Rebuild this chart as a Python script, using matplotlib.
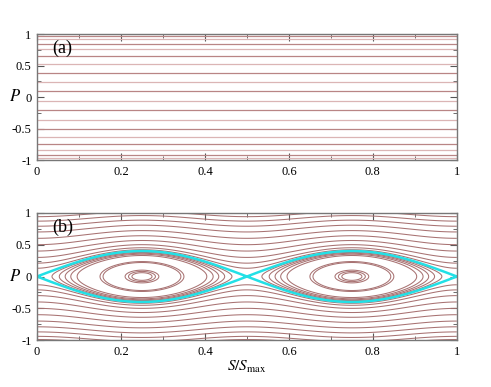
import numpy as np
import matplotlib
matplotlib.use("Agg")
import matplotlib.pyplot as plt
from matplotlib.ticker import MultipleLocator, FormatStrFormatter

plt.rcParams['font.family'] = ['Liberation Serif', 'DejaVu Serif']
plt.rcParams['mathtext.fontset'] = 'stix'
plt.rcParams['axes.unicode_minus'] = False

# panel (a): flat orbits, momentum of each line
levels_a = [0.97, 0.92, 0.85, 0.76, 0.65, 0.53, 0.39, 0.24, 0.09,
            -0.06, -0.21, -0.36, -0.50, -0.63, -0.75, -0.84, -0.92, -0.97]

# panel (b): pendulum-like phase space
K = 0.04                     # separatrix half-width 0.4 = 2*sqrt(K)
sep_amp = 0.40               # separatrix P at S=0.25
trapped_amp = [0.06, 0.08, 0.10, 0.22, 0.235, 0.33, 0.35, 0.365, 0.378, 0.39]
passing_p0 = [0.13, 0.21, 0.30, 0.40, 0.50, 0.60, 0.70, 0.79, 0.87, 0.94, 0.99]

fig = plt.figure(figsize=(4.91, 3.87), dpi=100)
ax_a = fig.add_axes([0.0754, 0.586, 0.855, 0.326])
ax_b = fig.add_axes([0.0754, 0.121, 0.855, 0.329])

for i, p in enumerate(levels_a):
    col = '#b98585' if i % 2 == 0 else '#dbb5b5'
    ax_a.axhline(p, color=col, lw=0.9)

s = np.linspace(0, 1, 800)
p = np.linspace(-1.1, 1.1, 800)
S, P = np.meshgrid(s, p)
H = P ** 2 / 2 + K * np.cos(4 * np.pi * S)

e_trap = sorted(a ** 2 / 2 - K for a in trapped_amp)
e_pass = sorted(p0 ** 2 / 2 + K for p0 in passing_p0)
ax_b.contour(S, P, H, levels=e_trap + e_pass, colors='#a87272',
             linewidths=0.75, linestyles='solid')
ax_b.contour(S, P, H, levels=[sep_amp ** 2 / 2 - K], colors='#22e0e6',
             linewidths=1.8, linestyles='solid')

for ax, tag in [(ax_a, '(a)'), (ax_b, '(b)')]:
    ax.set_xlim(0, 1)
    ax.set_ylim(-1, 1)
    ax.xaxis.set_major_locator(MultipleLocator(0.2))
    ax.xaxis.set_minor_locator(MultipleLocator(0.1))
    ax.yaxis.set_major_locator(MultipleLocator(0.5))
    ax.yaxis.set_minor_locator(MultipleLocator(0.25))
    ax.xaxis.set_major_formatter(FormatStrFormatter('%g'))
    ax.yaxis.set_major_formatter(FormatStrFormatter('%g'))
    ax.tick_params(which='both', direction='in', top=True, right=True,
                   labelsize=9, pad=4, color='#555555')
    ax.tick_params(which='major', length=5)
    ax.tick_params(which='minor', length=3)
    for sp in ax.spines.values():
        sp.set_color('#777777')
        sp.set_linewidth(1.0)
    ax.set_ylabel('$P$', fontsize=12, rotation=0, va='center', ha='center')
    ax.yaxis.set_label_coords(-0.052, 0.5)
    ax.text(0.036, 0.885, tag, transform=ax.transAxes, fontsize=13, va='center')

ax_b.set_xlabel(r'$S/S_{\max}$', fontsize=11, labelpad=1)

fig.savefig('out.png', dpi=100)
